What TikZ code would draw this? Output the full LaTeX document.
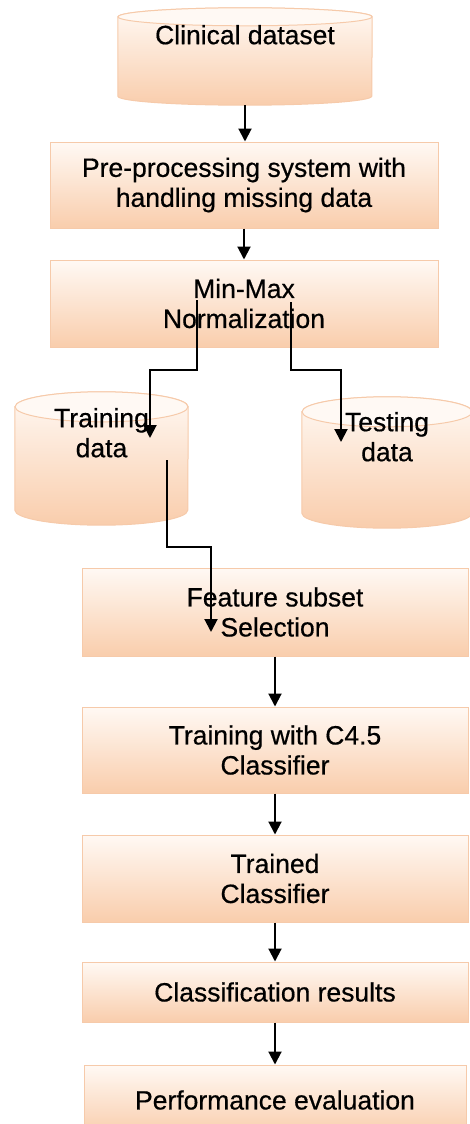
\documentclass[tikz,border=0pt]{standalone}
\usepackage{fontspec}
\setmainfont{Liberation Sans}[FakeBold=0.5]
\usepackage{xcolor}
\usetikzlibrary{arrows.meta,calc,backgrounds}

\definecolor{peachtop}{RGB}{255,249,244}
\definecolor{peachbot}{RGB}{249,205,172}
\definecolor{peachline}{RGB}{246,202,170}

\tikzset{
  procbox/.style={rectangle, draw=peachline, line width=1pt, top color=peachtop,
    bottom color=peachbot, inner sep=0pt, align=center,
    font=\fontsize{26.5}{30}\selectfont},
  datastore/.style={rectangle, inner sep=0pt},
  storebody/.style={draw=peachline, line width=1pt, top color=peachtop,
    bottom color=peachbot},
  storelid/.style={draw=peachline, line width=1pt, fill=peachtop},
  storetext/.style={anchor=north, inner sep=0pt, align=center,
    font=\fontsize{26.5}{30}\selectfont},
  arr/.style={line width=2pt, -{Triangle[length=13pt,width=13pt]}}
}

\begin{document}
\begin{tikzpicture}[x=1pt,y=-1pt]
  \useasboundingbox (0,0) rectangle (470,1124);

  % top part
  \node[datastore, minimum width=254pt, minimum height=97pt,
    label={[storetext, yshift=-17pt]north:Clinical dataset}] (cd) at (245,56.5) {};
  \node[procbox, minimum width=388pt, minimum height=86pt] (pp) at (244,185)
    {Pre-processing system with\\handling missing data};
  \node[procbox, minimum width=388pt, minimum height=87pt] (mm) at (244,303.5)
    {Min-Max\\Normalization};

  % split into training / testing
  \node[datastore, minimum width=173pt, minimum height=133pt,
    label={[storetext, yshift=-16pt]north:Training\\data}] (tr) at (101.5,458.5) {};
  \node[datastore, minimum width=170pt, minimum height=131pt,
    label={[storetext, yshift=-15pt]north:Testing\\data}] (ts) at (387,462.5) {};

  % cylinders behind the store texts
  \begin{scope}[on background layer]
  \foreach \n/\rx/\ry in {cd/127/9,tr/86.5/15,ts/85/15} {
    \path[storebody] ($(\n.north west)+(0,\ry)$) -- ($(\n.south west)+(0,-\ry)$)
      arc[start angle=180, end angle=360, x radius=\rx pt, y radius=\ry pt]
      -- ($(\n.north east)+(0,\ry)$)
      arc[start angle=0, end angle=180, x radius=\rx pt, y radius=\ry pt] -- cycle;
    \path[storelid] ($(\n.north)+(0,\ry)$) ellipse[x radius=\rx pt, y radius=\ry pt];
  }
  \end{scope}

  % lower chain
  \node[procbox, minimum width=386pt, minimum height=88pt] (fs) at (275,612)
    {Feature subset\\Selection};
  \node[procbox, minimum width=386pt, minimum height=86pt] (tc) at (275,750)
    {Training with C4.5\\Classifier};
  \node[procbox, minimum width=386pt, minimum height=87pt] (tcl) at (275,878.5)
    {Trained\\Classifier};
  \node[procbox, minimum width=386pt, minimum height=60pt] (cr) at (275,992)
    {Classification results};
  \node[procbox, minimum width=382pt, minimum height=70pt] (pe) at (275,1100)
    {Performance evaluation};

  % connector ends
  \coordinate (mmL) at ($(mm.center)+(-47,-3.5)$);
  \coordinate (mmR) at ($(mm.center)+(47,-1.5)$);
  \coordinate (split) at (244,370);
  \coordinate (trIn) at ($(tr.center)+(48.5,-20.5)$);
  \coordinate (tsIn) at ($(ts.center)+(-46,-20.5)$);
  \coordinate (trOut) at ($(tr.center)+(65.5,1.5)$);
  \coordinate (turn) at (190,547);
  \coordinate (fsIn) at ($(fs.center)+(-64,20)$);

  \draw[arr] (cd.south) -- (cd.south |- pp.north);
  \draw[arr] (pp.south) -- (mm.north);
  \draw[arr] (mmL) -- (mmL |- split) -| (trIn);
  \draw[arr] (mmR) -- (mmR |- split) -| (tsIn);
  \draw[arr] (trOut) -- (trOut |- turn) -| (fsIn);
  \draw[arr] (fs.south) -- (tc.north);
  \draw[arr] (tc.south) -- (tcl.north);
  \draw[arr] (tcl.south) -- (cr.north);
  \draw[arr] (cr.south) -- (pe.north);
\end{tikzpicture}
\end{document}
